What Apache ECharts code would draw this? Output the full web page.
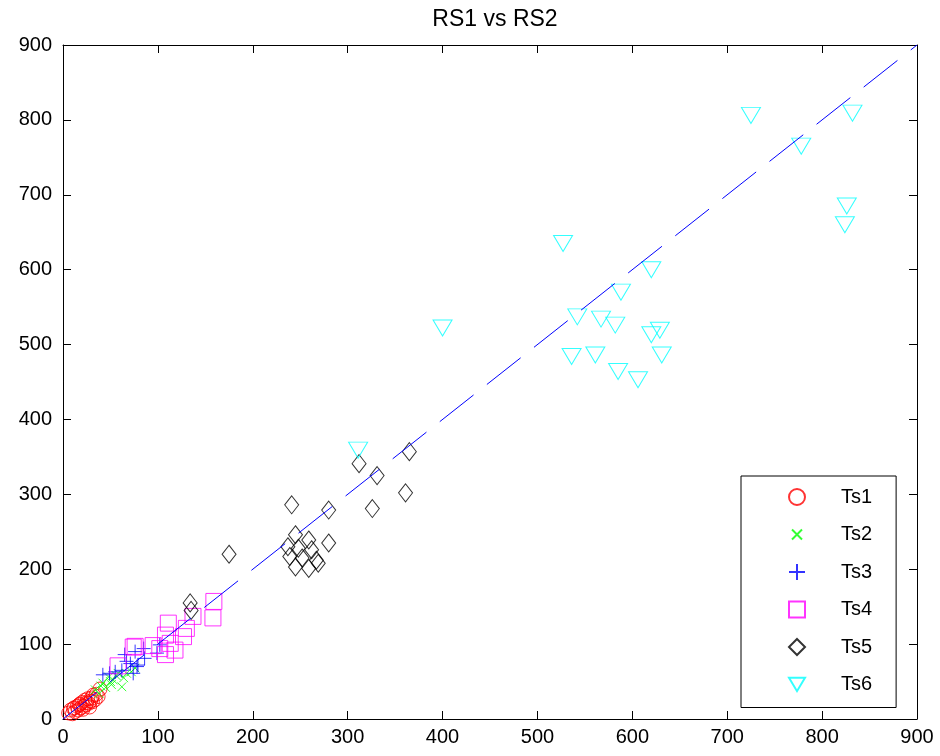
<!DOCTYPE html>
<html>
<head>
<meta charset="utf-8">
<script src="https://cdn.jsdelivr.net/npm/echarts@6/dist/echarts.min.js"></script>
<style>
  html, body { margin: 0; padding: 0; background: #fff; }
  #chart { width: 940px; height: 756px; }
</style>
</head>
<body>
<div id="chart"></div>
<script>
// RS1 (x) and RS2 (y) values for each test set
const ts1Rs1 = [6, 8, 10, 11, 12, 13, 15, 16, 17, 18, 19, 20, 21, 22, 23, 24, 25, 26, 27, 28, 29, 30, 31, 32, 34, 35, 37, 39];
const ts1Rs2 = [8, 12, 7, 14, 15, 10, 17, 12, 19, 20, 15, 22, 13, 17, 25, 19, 22, 27, 21, 16, 24, 28, 23, 32, 26, 33, 30, 40];

const ts2Rs1 = [34, 38, 40, 42, 45, 48, 50, 51, 53, 56, 58, 62, 64, 67, 72, 76];
const ts2Rs2 = [39, 34, 44, 48, 42, 56, 50, 46, 52, 58, 61, 43, 55, 61, 63, 68];

const ts3Rs1 = [42, 49, 55, 62, 65, 67, 71, 74, 76, 78, 79, 85, 86, 99, 102];
const ts3Rs2 = [59, 61, 63, 65, 86, 77, 74, 61, 90, 70, 72, 94, 81, 88, 99];

const ts4Rs1 = [159, 158, 137, 111, 130, 127, 108, 113, 95, 76, 102, 58, 108, 118, 74];
const ts4Rs2 = [157, 135, 137, 128, 121, 110, 112, 101, 98, 97, 94, 71, 86, 92, 96];

const ts5Rs1 = [134, 135, 175, 241, 280, 312, 331, 365, 361, 326, 280,
                245, 259, 237, 248, 262, 239, 252, 267, 245, 259, 269];
const ts5Rs2 = [155, 145, 220, 286, 279, 341, 325, 357, 302, 281, 235,
                246, 239, 230, 228, 226, 217, 215, 212, 203, 201, 208];

const ts6Rs1 = [725, 832, 778, 826, 824, 527, 620, 588, 400, 542,
                567, 582, 629, 620, 536, 561, 631, 585, 606, 311];
const ts6Rs2 = [806, 809, 765, 685, 660, 635, 600, 570, 522, 537,
                534, 526, 519, 513, 484, 486, 486, 464, 453, 359];

const tickValues = [0, 100, 200, 300, 400, 500, 600, 700, 800, 900];
const setNames = ['Ts1', 'Ts2', 'Ts3', 'Ts4', 'Ts5', 'Ts6'];

const pairs = (xs, ys) => xs.map((x, i) => [x, ys[i]]);

const FONT = '"Liberation Sans", Arial, sans-serif';

// open marker shapes; the cross carries invisible move-to padding so it draws smaller
const PLUS = 'path://M5,0L5,10M0,5L10,5';
const CROSS = 'path://M-3,-3M0,0L10,10M10,0L0,10M13,13';
const TRI_DOWN = 'path://M0,0L12,0L6,10Z';

const markerStyle = (c) => ({ color: 'rgba(0,0,0,0)', borderColor: c, borderWidth: 1 });

function scatterSet(name, xs, ys, symbol, size, color) {
  return {
    name: name,
    type: 'scatter',
    data: pairs(xs, ys),
    symbol: symbol,
    symbolSize: size,
    itemStyle: markerStyle(color),
    emphasis: { disabled: true },
    animation: false
  };
}

const tickMin = tickValues[0];
const tickMax = tickValues[tickValues.length - 1];
const tickStep = tickValues[1] - tickValues[0];

const baseAxis = {
  type: 'value',
  min: tickMin,
  max: tickMax,
  interval: tickStep,
  axisLine: { show: true, onZero: false, lineStyle: { color: '#000', width: 1 } },
  axisTick: { show: true, inside: true, length: 8, lineStyle: { color: '#000' } },
  splitLine: { show: false },
  axisLabel: { color: '#000', fontFamily: FONT, fontSize: 20 }
};

const chart = echarts.init(document.getElementById('chart'), null, { renderer: 'canvas' });

chart.setOption({
  backgroundColor: '#fff',
  animation: false,
  title: {
    text: 'RS1 vs RS2',
    left: 490,
    top: 3,
    textAlign: 'center',
    textStyle: { color: '#000', fontFamily: FONT, fontSize: 23, fontWeight: 'normal' }
  },
  grid: { left: 63, right: 23, top: 45, bottom: 37, containLabel: false },
  xAxis: [
    Object.assign({}, baseAxis, { position: 'bottom', axisLabel: Object.assign({}, baseAxis.axisLabel, { margin: 8 }) }),
    Object.assign({}, baseAxis, { position: 'top', axisLabel: { show: false } })
  ],
  yAxis: [
    Object.assign({}, baseAxis, { position: 'left', axisLabel: Object.assign({}, baseAxis.axisLabel, { margin: 11 }) }),
    Object.assign({}, baseAxis, { position: 'right', axisLabel: { show: false } })
  ],
  legend: {
    data: setNames,
    orient: 'vertical',
    left: 741,
    top: 476,
    padding: [11, 24, 13, 47],
    itemWidth: 16,
    itemHeight: 16,
    itemGap: 17.5,
    backgroundColor: '#fff',
    borderColor: '#000',
    borderWidth: 1,
    selectedMode: false,
    textStyle: { color: '#000', fontFamily: FONT, fontSize: 20, lineHeight: 20, padding: [0, 0, 0, 31] }
  },
  series: [
    scatterSet(setNames[0], ts1Rs1, ts1Rs2, 'circle', 14, '#ff0000'),
    scatterSet(setNames[1], ts2Rs1, ts2Rs2, CROSS, 14, '#00ff00'),
    scatterSet(setNames[2], ts3Rs1, ts3Rs2, PLUS, 14, '#0000ff'),
    scatterSet(setNames[3], ts4Rs1, ts4Rs2, 'rect', 16, '#ff00ff'),
    scatterSet(setNames[4], ts5Rs1, ts5Rs2, 'diamond', [14, 18], '#000000'),
    scatterSet(setNames[5], ts6Rs1, ts6Rs2, TRI_DOWN, [19, 16], '#00ffff'),
    {
      name: 'RS1 = RS2',
      type: 'line',
      data: [[tickMin, tickMin], [tickMax, tickMax]],
      symbol: 'none',
      silent: true,
      lineStyle: { color: '#0000ff', width: 1, type: [43, 17] },
      z: 3,
      animation: false
    }
  ]
});
</script>
</body>
</html>
